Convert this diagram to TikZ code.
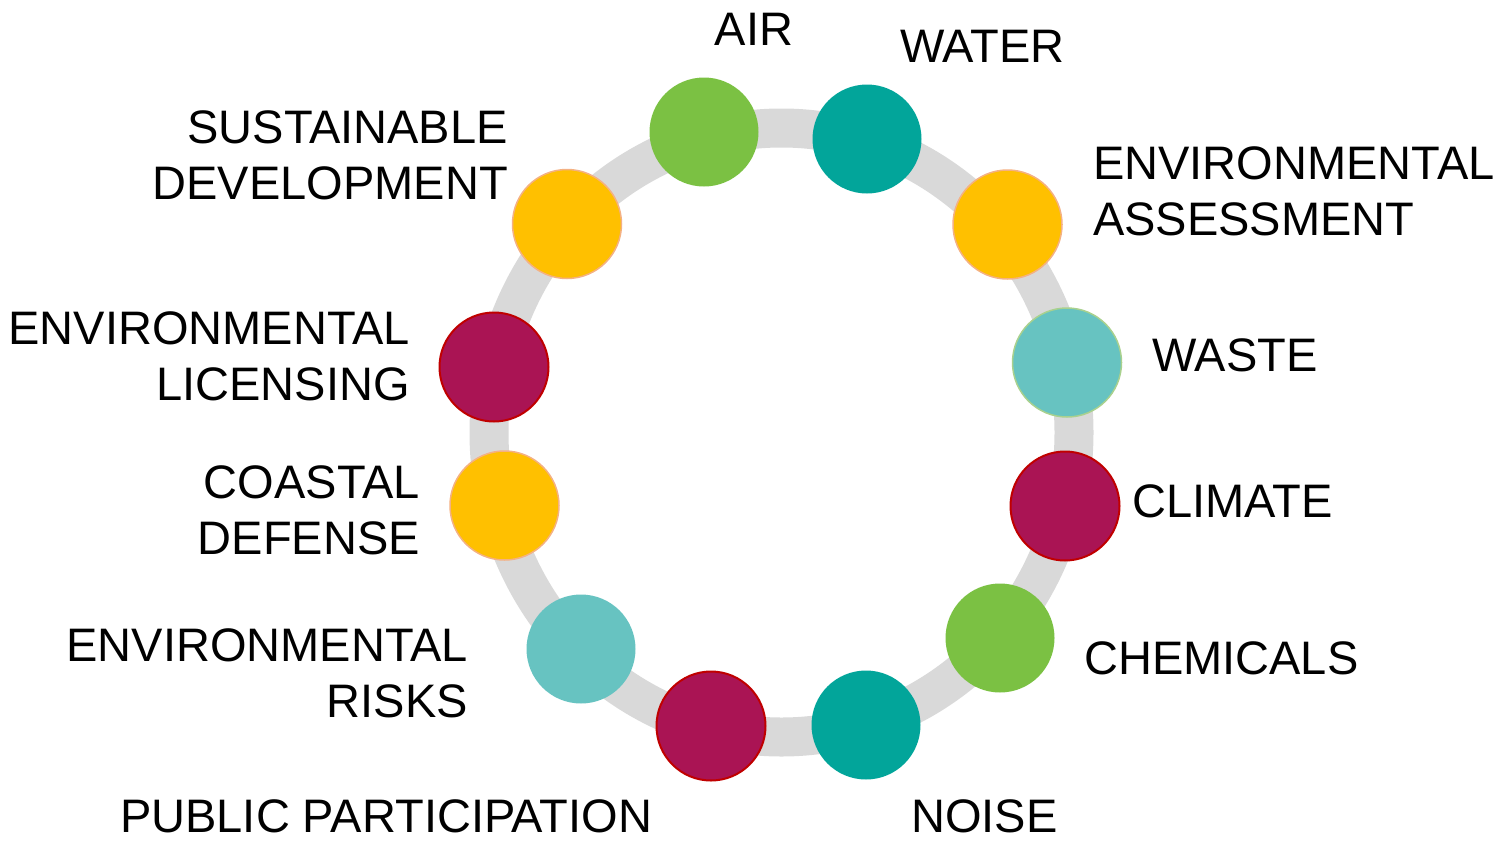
\documentclass[tikz,border=0pt]{standalone}
\usepackage{fontspec}
\setmainfont{Liberation Sans}
\definecolor{ringgray}{HTML}{D9D9D9}
\definecolor{cgreen}{HTML}{7BC143}
\definecolor{cteal}{HTML}{02A59A}
\definecolor{camber}{HTML}{FFC000}
\definecolor{camberline}{HTML}{F4B183}
\definecolor{clteal}{HTML}{67C3C1}
\definecolor{cltealline}{HTML}{A9D18E}
\definecolor{cwine}{HTML}{AA1454}
\definecolor{cwineline}{HTML}{C00000}
\begin{document}
\begin{tikzpicture}[x=1pt,y=-1pt,
	dot/.style={circle,minimum size=109pt,inner sep=0pt},
	lbl/.style={inner sep=0pt,font=\fontsize{47}{56}\selectfont}]
			\useasboundingbox (0,0) rectangle (1499,841);
			\draw[ringgray,line width=39pt] (781.5,432.5) ellipse [x radius=292.5pt,y radius=304.5pt];
			\node[dot,fill=cgreen] (1)at(704,132) {};
			\node[dot,fill=cteal] (2)at(867,139) {};
			\node[dot,fill=camber,draw=camberline,line width=1.5pt] (3)at(1007.5,224.5) {};
			\node[dot,fill=clteal,draw=cltealline,line width=1.5pt] (4)at(1067,362.5) {};
			\node[dot,fill=cwine,draw=cwineline,line width=2pt] (5)at(1065,506) {};
			\node[dot,fill=cgreen] (6)at(1000,638) {};
			\node[dot,fill=cteal] (7)at(866,725) {};
			\node[dot,fill=cwine,draw=cwineline,line width=2pt] (8)at(711,726) {};
			\node[dot,fill=clteal] (9)at(581,649) {};
			\node[dot,fill=camber,draw=camberline,line width=1.5pt] (10)at(504.5,505.5) {};
			\node[dot,fill=cwine,draw=cwineline,line width=2pt] (11)at(494,367) {};
			\node[dot,fill=camber,draw=camberline,line width=1.5pt] (12)at(567,224) {};
			\node[lbl,anchor=north] (L1)at(754,13) {AIR};
			\node[lbl,anchor=north west] (L2)at(900,30) {WATER};
			\node[lbl,anchor=north west,align=left] (L3)at(1093,146) {ENVIRONMENTAL\\ASSESSMENT};
			\node[lbl,anchor=north west] (L4)at(1152,338) {WASTE};
			\node[lbl,anchor=north west] (L5)at(1132,484) {CLIMATE};
			\node[lbl,anchor=north west] (L6)at(1084,641) {CHEMICALS};
			\node[lbl,anchor=north west] (L7)at(911,799) {NOISE};
			\node[lbl,anchor=north west] (L8)at(120,799) {PUBLIC PARTICIPATION};
			\node[lbl,anchor=north east,align=right] (L9)at(468,628) {ENVIRONMENTAL\\RISKS};
			\node[lbl,anchor=north east,align=right] (L10)at(420,465) {COASTAL\\DEFENSE};
			\node[lbl,anchor=north east,align=right] (L11)at(410,311) {ENVIRONMENTAL\\LICENSING};
			\node[lbl,anchor=north east,align=right] (L12)at(508,110) {SUSTAINABLE\\DEVELOPMENT};
		\end{tikzpicture}
\end{document}
